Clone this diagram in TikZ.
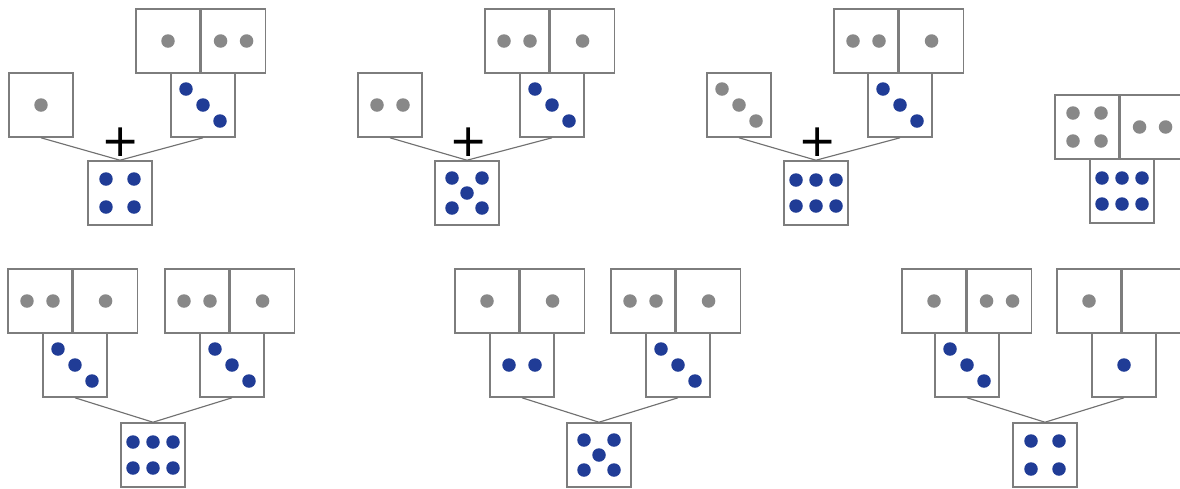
\documentclass[tikz,border=0pt]{standalone}
\usepackage{fontspec}
\usepackage{tikz}
\usetikzlibrary{positioning, calc}
\newfontfamily\plusfont{DejaVu Sans}
\definecolor{boxgray}{RGB}{125,125,125}
\definecolor{pipgray}{RGB}{136,136,136}
\definecolor{pipblue}{RGB}{32,60,150}
% pip layouts (offsets from the face centre)
\newcommand{\pipone}{0/0}
\newcommand{\piptwo}{-13/0, 13/0}
\newcommand{\pipthree}{-17/-16, 0/0, 17/16}
\newcommand{\pipfour}{-14/-14, 14/-14, -14/14, 14/14}
\newcommand{\pipfive}{-15/-15, 15/-15, 0/0, -15/15, 15/15}
\newcommand{\pipsix}{-20/-13, 0/-13, 20/-13, -20/13, 0/13, 20/13}
\newcommand{\pips}[3]{\foreach \px/\py in #2 {\fill[#3] ($(#1)+(\px,\py)$) circle (0.135cm);}}

\begin{document}
\begin{tikzpicture}[x=0.02cm, y=-0.02cm,
    face/.style={draw=boxgray, line width=0.9pt, fill=white, minimum size=1.28cm, inner sep=0pt},
    gpip/.style={fill=pipgray},
    bpip/.style={fill=pipblue},
    link/.style={draw=boxgray!90!black, line width=0.65pt},
    plussign/.style={inner sep=0pt, font=\plusfont\fontsize{26}{26}\selectfont}]
  \useasboundingbox (0,0) rectangle (1180,488);

  % Group 1
  \node[face] (s1) at (41,105) {};
  \node[face] (pa1) at (168,41) {};
  \node[face, right=0pt of pa1] (pb1) {};
  \node[face] (b1) at (203,105) {};
  \node[face] (r1) at (120,193) {};
  \pips{s1}{\pipone}{gpip}
  \pips{pa1}{\pipone}{gpip}
  \pips{pb1}{\piptwo}{gpip}
  \pips{b1}{\pipthree}{bpip}
  \pips{r1}{\pipfour}{bpip}
  \draw[link] (s1.south) -- (r1.north) (b1.south) -- (r1.north);
  \node[plussign] (plus1) at ($(r1.north)+(1,-18)$) {+};

  % Group 2
  \node[face] (s2) at (390,105) {};
  \node[face] (pa2) at (517,41) {};
  \node[face, right=0pt of pa2] (pb2) {};
  \node[face] (b2) at (552,105) {};
  \node[face] (r2) at (467,193) {};
  \pips{s2}{\piptwo}{gpip}
  \pips{pa2}{\piptwo}{gpip}
  \pips{pb2}{\pipone}{gpip}
  \pips{b2}{\pipthree}{bpip}
  \pips{r2}{\pipfive}{bpip}
  \draw[link] (s2.south) -- (r2.north) (b2.south) -- (r2.north);
  \node[plussign] (plus2) at ($(r2.north)+(2,-18)$) {+};

  % Group 3
  \node[face] (s3) at (739,105) {};
  \node[face] (pa3) at (866,41) {};
  \node[face, right=0pt of pa3] (pb3) {};
  \node[face] (b3) at (900,105) {};
  \node[face] (r3) at (816,193) {};
  \pips{s3}{\pipthree}{gpip}
  \pips{pa3}{\piptwo}{gpip}
  \pips{pb3}{\pipone}{gpip}
  \pips{b3}{\pipthree}{bpip}
  \pips{r3}{\pipsix}{bpip}
  \draw[link] (s3.south) -- (r3.north) (b3.south) -- (r3.north);
  \node[plussign] (plus3) at ($(r3.north)+(2,-18)$) {+};

  % Group 4
  \node[face] (pa4) at (1087,127) {};
  \node[face, right=0pt of pa4] (pb4) {};
  \node[face] (b4) at (1122,191) {};
  \pips{pa4}{\pipfour}{gpip}
  \pips{pb4}{\piptwo}{gpip}
  \pips{b4}{\pipsix}{bpip}

  % Group 5
  \node[face] (pa5) at (40,301) {};
  \node[face, right=0pt of pa5] (pb5) {};
  \node[face] (b5) at (75,365) {};
  \node[face] (pc5) at (197,301) {};
  \node[face, right=0pt of pc5] (pd5) {};
  \node[face] (c5) at (232,365) {};
  \node[face] (r5) at (153,455) {};
  \pips{pa5}{\piptwo}{gpip}
  \pips{pb5}{\pipone}{gpip}
  \pips{b5}{\pipthree}{bpip}
  \pips{pc5}{\piptwo}{gpip}
  \pips{pd5}{\pipone}{gpip}
  \pips{c5}{\pipthree}{bpip}
  \pips{r5}{\pipsix}{bpip}
  \draw[link] (b5.south) -- (r5.north) (c5.south) -- (r5.north);

  % Group 6
  \node[face] (pa6) at (487,301) {};
  \node[face, right=0pt of pa6] (pb6) {};
  \node[face] (b6) at (522,365) {};
  \node[face] (pc6) at (643,301) {};
  \node[face, right=0pt of pc6] (pd6) {};
  \node[face] (c6) at (678,365) {};
  \node[face] (r6) at (599,455) {};
  \pips{pa6}{\pipone}{gpip}
  \pips{pb6}{\pipone}{gpip}
  \pips{b6}{\piptwo}{bpip}
  \pips{pc6}{\piptwo}{gpip}
  \pips{pd6}{\pipone}{gpip}
  \pips{c6}{\pipthree}{bpip}
  \pips{r6}{\pipfive}{bpip}
  \draw[link] (b6.south) -- (r6.north) (c6.south) -- (r6.north);

  % Group 7
  \node[face] (pa7) at (934,301) {};
  \node[face, right=0pt of pa7] (pb7) {};
  \node[face] (b7) at (967,365) {};
  \node[face] (pc7) at (1089,301) {};
  \node[face, right=0pt of pc7] (pd7) {};
  \node[face] (c7) at (1124,365) {};
  \node[face] (r7) at (1045,455) {};
  \pips{pa7}{\pipone}{gpip}
  \pips{pb7}{\piptwo}{gpip}
  \pips{b7}{\pipthree}{bpip}
  \pips{pc7}{\pipone}{gpip}
  \pips{c7}{\pipone}{bpip}
  \pips{r7}{\pipfour}{bpip}
  \draw[link] (b7.south) -- (r7.north) (c7.south) -- (r7.north);
\end{tikzpicture}
\end{document}
